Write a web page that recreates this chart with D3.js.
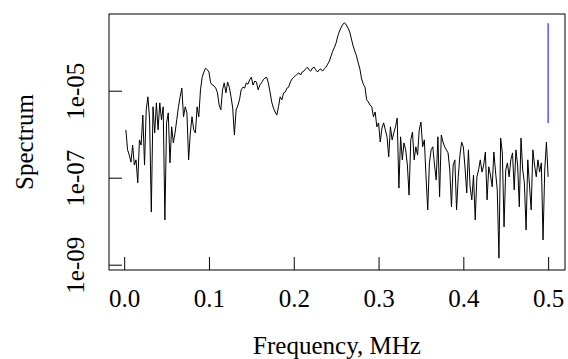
<!DOCTYPE html>
<html>
<head>
<meta charset="utf-8">
<script src="https://cdn.jsdelivr.net/npm/d3@7"></script>
<style>
  html, body { margin: 0; padding: 0; background: #fff; }
  svg text { font-family: "Liberation Serif", "Times New Roman", serif; fill: #000; }
</style>
</head>
<body>
<div id="chart"></div>
<script>
// frequency grid, MHz (step of the periodogram)
const freqStep = 0.002;

// log10 of the spectrum, one per frequency
const logSpectrum = [
  -5.90, -6.36, -6.48, -6.64, -6.25, -6.71, -6.59, -7.12, -6.13, -6.25,
  -5.56, -6.71, -5.44, -5.14, -5.67, -7.79, -5.37, -5.97, -5.28, -5.90,
  -5.28, -5.67, -5.37, -7.97, -5.74, -5.51, -6.66, -5.83, -6.20, -5.97,
  -5.67, -5.37, -5.14, -4.94, -5.60, -5.37, -5.51, -6.59, -5.97, -5.60,
  -5.90, -5.97, -5.37, -5.60, -4.98, -4.69, -4.57, -4.48, -4.52, -4.57,
  -4.82, -4.87, -4.89, -4.94, -5.05, -5.33, -5.44, -4.98, -4.82, -5.05,
  -4.80, -4.92, -5.14, -5.40, -6.02, -5.44, -5.35, -5.21, -4.98, -4.92,
  -4.94, -4.82, -4.85, -4.75, -4.69, -4.87, -4.78, -4.80, -4.98, -4.87,
  -4.82, -4.75, -4.71, -4.69, -4.82, -5.03, -5.26, -5.40, -5.49, -5.56,
  -5.37, -5.14, -5.21, -5.05, -5.03, -4.94, -4.92, -4.80, -4.73, -4.69,
  -4.66, -4.62, -4.59, -4.64, -4.57, -4.55, -4.50, -4.46, -4.52, -4.55,
  -4.48, -4.46, -4.52, -4.57, -4.52, -4.50, -4.55, -4.50, -4.46, -4.39,
  -4.32, -4.20, -4.09, -4.00, -3.90, -3.74, -3.63, -3.54, -3.47, -3.44,
  -3.49, -3.56, -3.65, -3.81, -3.97, -4.09, -4.20, -4.36, -4.50, -4.73,
  -4.85, -4.92, -5.21, -5.26, -5.33, -5.37, -5.60, -5.49, -5.83, -5.74,
  -6.18, -5.86, -5.74, -5.90, -6.06, -6.52, -5.83, -6.13, -5.97, -5.83,
  -5.63, -7.24, -6.06, -6.59, -6.20, -6.36, -6.71, -7.40, -6.13, -5.95,
  -6.59, -6.29, -6.48, -5.90, -5.72, -6.29, -6.13, -6.98, -7.74, -6.66,
  -6.36, -6.29, -6.71, -7.05, -6.06, -7.44, -6.02, -6.18, -6.29, -6.36,
  -6.43, -6.82, -7.67, -6.71, -6.59, -7.74, -6.98, -6.48, -6.18, -6.29,
  -6.78, -7.35, -6.36, -7.21, -7.51, -6.94, -7.97, -6.98, -6.82, -6.59,
  -6.87, -6.71, -6.41, -7.51, -6.75, -6.94, -7.21, -6.41, -6.87, -7.28,
  -8.85, -6.09, -6.43, -8.13, -6.82, -6.66, -6.98, -6.59, -6.43, -7.28,
  -6.36, -6.71, -7.67, -6.09, -6.82, -7.12, -8.20, -6.59, -7.17, -7.74,
  -6.36, -6.71, -6.98, -6.59, -6.87, -6.66, -8.43, -6.82, -6.18, -6.98
];

// confidence bar drawn at the right edge (log10 of its ends)
const ciFreq = 0.5;
const ciLog = [-5.74, -3.45];

const xTicks = [0, 0.1, 0.2, 0.3, 0.4, 0.5];
const yTicks = [1e-9, 1e-7, 1e-5];
const yTickLabels = ['1e-09', '1e-07', '1e-05'];

const fontFamily = '"Liberation Serif", "Times New Roman", serif';
const fontSize = '25px';
const width = 568, height = 359;
const plot = { left: 109, right: 565, top: 14, bottom: 270 };

const points = logSpectrum.map((v, i) => ({ f: (i + 1) * freqStep, s: Math.pow(10, v) }));

const x = d3.scaleLinear()
  .domain([-0.0179, 0.5199])
  .range([plot.left, plot.right]);

const y = d3.scaleLog()
  .domain([Math.pow(10, -9.122), Math.pow(10, -3.237)])
  .range([plot.bottom, plot.top]);

const svg = d3.select('#chart')
  .append('svg')
  .attr('width', width)
  .attr('height', height)
  .attr('font-family', fontFamily);

// spectrum trace
svg.append('path')
  .datum(points)
  .attr('fill', 'none')
  .attr('stroke', '#000')
  .attr('stroke-width', 1)
  .attr('stroke-linejoin', 'round')
  .attr('d', d3.line().x(d => x(d.f)).y(d => y(d.s)));

// blue CI bar
svg.append('line')
  .attr('x1', x(ciFreq)).attr('x2', x(ciFreq))
  .attr('y1', y(Math.pow(10, ciLog[0]))).attr('y2', y(Math.pow(10, ciLog[1])))
  .attr('stroke', '#3a3aff')
  .attr('stroke-width', 1.3);

// axes, ticks pointing inward
const xAxis = svg.append('g')
  .attr('transform', `translate(0, ${plot.bottom})`)
  .call(d3.axisBottom(x).tickValues(xTicks).tickSize(-13).tickFormat(d3.format('.1f')))
  .attr('font-family', fontFamily);

xAxis.select('.domain').remove();
xAxis.selectAll('line').attr('stroke', '#000');
xAxis.selectAll('text')
  .attr('y', 37)
  .attr('dy', 0)
  .style('font-size', fontSize);

const yAxis = svg.append('g')
  .attr('transform', `translate(${plot.left}, 0)`)
  .call(d3.axisLeft(y).tickValues(yTicks).tickSize(-13).tickFormat((d, i) => yTickLabels[i]))
  .attr('font-family', fontFamily);

yAxis.select('.domain').remove();
yAxis.selectAll('line').attr('stroke', '#000');
yAxis.selectAll('text')
  .attr('x', 0)
  .attr('dy', 0)
  .attr('transform', 'translate(-25, 0) rotate(-90)')
  .attr('text-anchor', 'middle')
  .style('font-size', fontSize);

// box
svg.append('rect')
  .attr('x', plot.left)
  .attr('y', plot.top)
  .attr('width', plot.right - plot.left)
  .attr('height', plot.bottom - plot.top)
  .attr('fill', 'none')
  .attr('stroke', '#000')
  .attr('stroke-width', 1);

// titles
svg.append('text')
  .attr('x', (plot.left + plot.right) / 2)
  .attr('y', 354)
  .attr('text-anchor', 'middle')
  .style('font-size', fontSize)
  .text('Frequency, MHz');

svg.append('text')
  .attr('transform', `translate(33, ${(plot.top + plot.bottom) / 2}) rotate(-90)`)
  .attr('text-anchor', 'middle')
  .style('font-size', fontSize)
  .text('Spectrum');
</script>
</body>
</html>
